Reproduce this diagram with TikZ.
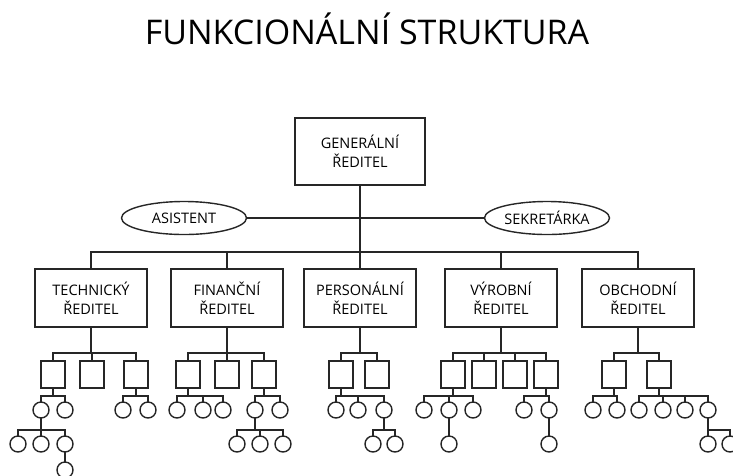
\documentclass[tikz,border=0pt]{standalone}
\usepackage{fontspec}
\setmainfont{Open Sans}
\usetikzlibrary{shapes.geometric}

\tikzset{
  chief/.style={draw, minimum width=130, minimum height=67, inner sep=0pt, outer sep=0pt,
    align=center, font=\fontsize{14.5}{19}\selectfont},
  dept/.style={draw, minimum width=112, minimum height=58, inner sep=0pt, outer sep=0pt,
    align=center, font=\fontsize{14.5}{19}\selectfont},
  aide/.style={draw, ellipse, minimum width=125, minimum height=33, inner sep=0pt, outer sep=0pt,
    font=\fontsize{14.5}{19}\selectfont},
  unit/.style={draw, minimum width=24, minimum height=27, inner sep=0pt, outer sep=0pt},
  emp/.style={draw, circle, minimum size=16, inner sep=0pt, outer sep=0pt}
}

\begin{document}
\begin{tikzpicture}[x=1pt, y=-1pt, line width=1.4pt, draw=black!85, text=black]
\useasboundingbox (0,0) rectangle (733,475);

\node[anchor=base, font=\fontsize{34}{40}\selectfont] (title) at (367,44) {FUNKCIONÁLNÍ STRUKTURA};

\node[chief] (gen) at (360,151.5) {GENERÁLNÍ\\ŘEDITEL};
\node[aide] (asist) at (184,218) {ASISTENT};
\node[aide] (sekr) at (547,218) {SEKRETÁRKA};

\node[dept] (tech) at (91,298) {TECHNICKÝ\\ŘEDITEL};
\node[dept] (fin) at (227,298) {FINANČNÍ\\ŘEDITEL};
\node[dept] (pers) at (360,298) {PERSONÁLNÍ\\ŘEDITEL};
\node[dept] (vyr) at (501,298) {VÝROBNÍ\\ŘEDITEL};
\node[dept] (obch) at (638,298) {OBCHODNÍ\\ŘEDITEL};

% technicky
\node[unit] (ta) at (53,374.5) {};
\node[unit] (tb) at (92,374.5) {};
\node[unit] (tc) at (136,374.5) {};
\node[emp] (ta1) at (41,410) {};
\node[emp] (ta2) at (65,410) {};
\node[emp] (ta11) at (18,444) {};
\node[emp] (ta12) at (41,444) {};
\node[emp] (ta13) at (65,444) {};
\node[emp] (ta131) at (65,470) {};
\node[emp] (tc1) at (123,410) {};
\node[emp] (tc2) at (148,410) {};

% financni
\node[unit] (fa) at (188,374.5) {};
\node[unit] (fb) at (227,374.5) {};
\node[unit] (fc) at (264,374.5) {};
\node[emp] (fa1) at (177,410) {};
\node[emp] (fa2) at (203,410) {};
\node[emp] (fa3) at (223,410) {};
\node[emp] (fc1) at (255,410) {};
\node[emp] (fc2) at (280,410) {};
\node[emp] (fc11) at (237,444) {};
\node[emp] (fc12) at (260,444) {};
\node[emp] (fc13) at (283,444) {};

% personalni
\node[unit] (pa) at (341,374.5) {};
\node[unit] (pb) at (377,374.5) {};
\node[emp] (pa1) at (336,410) {};
\node[emp] (pa2) at (358,410) {};
\node[emp] (pa3) at (384,410) {};
\node[emp] (pa31) at (373,444) {};
\node[emp] (pa32) at (395,444) {};

% vyrobni
\node[unit] (va) at (453,374.5) {};
\node[unit] (vb) at (484,374.5) {};
\node[unit] (vc) at (515,374.5) {};
\node[unit] (vd) at (546,374.5) {};
\node[emp] (va1) at (424,410) {};
\node[emp] (va2) at (449,410) {};
\node[emp] (va3) at (473,410) {};
\node[emp] (va21) at (449,444) {};
\node[emp] (vd1) at (524,410) {};
\node[emp] (vd2) at (549,410) {};
\node[emp] (vd21) at (549,444) {};

% obchodni
\node[unit] (oa) at (614,374.5) {};
\node[unit] (ob) at (659,374.5) {};
\node[emp] (oa1) at (593,410) {};
\node[emp] (oa2) at (617,410) {};
\node[emp] (ob1) at (639,410) {};
\node[emp] (ob2) at (663,410) {};
\node[emp] (ob3) at (685,410) {};
\node[emp] (ob4) at (708,410) {};
\node[emp] (ob41) at (708,444) {};
\node[emp] (ob42) at (730,444) {};

% top level lines
\draw (asist.east) -- (sekr.west);
\draw (gen.south) -- (pers.north);
\draw (gen.south) -- ++(0,67) -| (tech.north);
\draw (gen.south) -- ++(0,67) -| (fin.north);
\draw (gen.south) -- ++(0,67) -| (vyr.north);
\draw (gen.south) -- ++(0,67) -| (obch.north);

% departments to units
\draw (tech.south) -- ++(0,26) -| (ta.north);
\draw (tech.south) -- ++(0,26) -| (tb.north);
\draw (tech.south) -- ++(0,26) -| (tc.north);
\draw (fin.south) -- ++(0,26) -| (fa.north);
\draw (fin.south) -- ++(0,26) -| (fb.north);
\draw (fin.south) -- ++(0,26) -| (fc.north);
\draw (pers.south) -- ++(0,26) -| (pa.north);
\draw (pers.south) -- ++(0,26) -| (pb.north);
\draw (vyr.south) -- ++(0,26) -| (va.north);
\draw (vyr.south) -- ++(0,26) -| (vb.north);
\draw (vyr.south) -- ++(0,26) -| (vc.north);
\draw (vyr.south) -- ++(0,26) -| (vd.north);
\draw (obch.south) -- ++(0,26) -| (oa.north);
\draw (obch.south) -- ++(0,26) -| (ob.north);

% units to people
\draw (ta.south) -- ++(0,8) -| (ta1.north);
\draw (ta.south) -- ++(0,8) -| (ta2.north);
\draw (tc.south) -- ++(0,8) -| (tc1.north);
\draw (tc.south) -- ++(0,8) -| (tc2.north);
\draw (fa.south) -- ++(0,8) -| (fa1.north);
\draw (fa.south) -- ++(0,8) -| (fa2.north);
\draw (fa.south) -- ++(0,8) -| (fa3.north);
\draw (fc.south) -- ++(0,8) -| (fc1.north);
\draw (fc.south) -- ++(0,8) -| (fc2.north);
\draw (pa.south) -- ++(0,8) -| (pa1.north);
\draw (pa.south) -- ++(0,8) -| (pa2.north);
\draw (pa.south) -- ++(0,8) -| (pa3.north);
\draw (va.south) -- ++(0,8) -| (va1.north);
\draw (va.south) -- ++(0,8) -| (va2.north);
\draw (va.south) -- ++(0,8) -| (va3.north);
\draw (vd.south) -- ++(0,8) -| (vd1.north);
\draw (vd.south) -- ++(0,8) -| (vd2.north);
\draw (oa.south) -- ++(0,8) -| (oa1.north);
\draw (oa.south) -- ++(0,8) -| (oa2.north);
\draw (ob.south) -- ++(0,8) -| (ob1.north);
\draw (ob.south) -- ++(0,8) -| (ob2.north);
\draw (ob.south) -- ++(0,8) -| (ob3.north);
\draw (ob.south) -- ++(0,8) -| (ob4.north);

% people to people
\draw (ta1.south) -- ++(0,12) -| (ta11.north);
\draw (ta1.south) -- ++(0,12) -| (ta12.north);
\draw (ta1.south) -- ++(0,12) -| (ta13.north);
\draw (ta13.south) -- (ta131.north);
\draw (fc1.south) -- ++(0,12) -| (fc11.north);
\draw (fc1.south) -- ++(0,12) -| (fc12.north);
\draw (fc1.south) -- ++(0,12) -| (fc13.north);
\draw (pa3.south) -- ++(0,12) -| (pa31.north);
\draw (pa3.south) -- ++(0,12) -| (pa32.north);
\draw (va2.south) -- (va21.north);
\draw (vd2.south) -- (vd21.north);
\draw (ob4.south) -- ++(0,12) -| (ob41.north);
\draw (ob4.south) -- ++(0,12) -| (ob42.north);
\end{tikzpicture}
\end{document}
